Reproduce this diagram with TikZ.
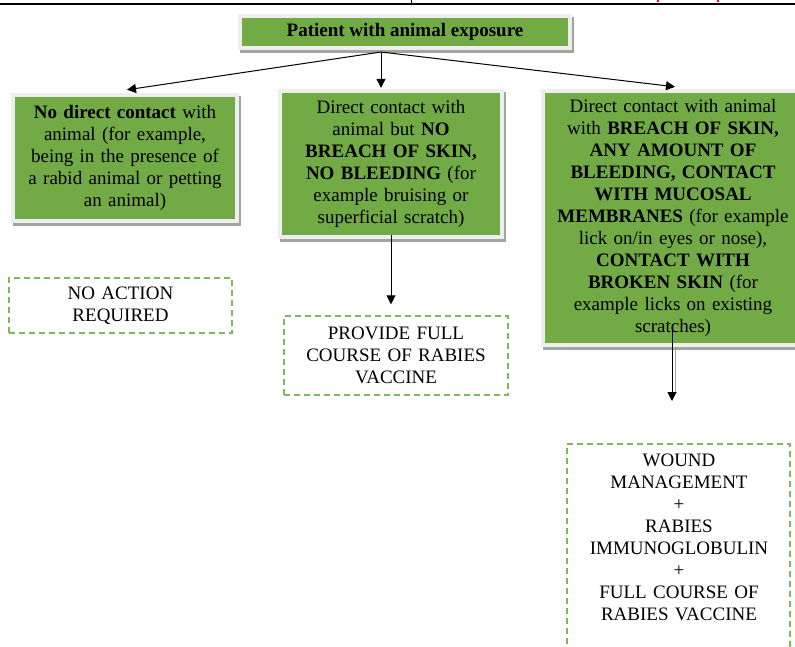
\documentclass[tikz,border=0pt]{standalone}
\usepackage{fontspec}
\setmainfont{Liberation Serif}
\usetikzlibrary{arrows.meta,calc}
\definecolor{boxgreen}{RGB}{114,170,70}
\definecolor{framegray}{RGB}{238,238,238}
\definecolor{shadowgray}{RGB}{160,166,156}
\definecolor{dashgreen}{RGB}{125,185,90}
\begin{document}
\begin{tikzpicture}[x=1pt,y=1pt,
  every node/.style={font=\fontsize{19}{22}\selectfont, text=black},
  greenbox/.style={fill=boxgreen, inner sep=0pt, align=center,
    preaction={draw=shadowgray, line width=8pt,
               transform canvas={shift={(2pt,-3pt)}}},
    preaction={draw=framegray, line width=8pt}},
  dashbox/.style={draw=dashgreen, line width=1.5pt, dash pattern=on 6pt off 4pt},
  outcome/.style={dashbox, align=center, inner sep=0pt},
  link/.style={-{Triangle[length=9pt,width=9pt]}, line width=1pt}]

\useasboundingbox (0,0) rectangle (795,-646);
\clip (0,0) rectangle (795,-646);

% page rule above the chart
\draw[line width=1.7pt] (0,-4.2) -- (795,-4.2);
\draw[line width=1pt] (411,0) -- (411,-4.2);
\draw[red, line width=1.5pt] (658,0) -- (658,-2) (718,0) -- (718,-2);

% question and the three kinds of exposure
\node[greenbox, minimum width=326pt, minimum height=28pt] (top) at (405,-32)
  {\textbf{Patient with animal exposure}};

\node[greenbox, minimum width=220pt, minimum height=122pt, text width=210pt]
  (nocontact) at (125,-158)
  {\textbf{No direct contact} with\\animal (for example,\\being in the presence of\\a rabid animal or petting\\an animal)};

\node[greenbox, minimum width=218pt, minimum height=142pt, text width=208pt]
  (contact) at (391,-164)
  {Direct contact with\\animal but \textbf{NO}\\\textbf{BREACH OF SKIN,}\\\textbf{NO BLEEDING} (for\\example bruising or\\superficial scratch)};

\node[greenbox, minimum width=256pt, minimum height=250pt, text width=246pt]
  (breach) at (673,-218)
  {Direct contact with animal\\with \textbf{BREACH OF SKIN,}\\\textbf{ANY AMOUNT OF}\\\textbf{BLEEDING, CONTACT}\\\textbf{WITH MUCOSAL}\\\textbf{MEMBRANES} (for example\\lick on/in eyes or nose),\\\textbf{CONTACT WITH}\\\textbf{BROKEN SKIN} (for\\example licks on existing\\scratches)};

% what to do in each case
\node[outcome, minimum width=223pt, minimum height=55pt, text width=215pt]
  (noaction) at (120.5,-305.5) {NO ACTION\\REQUIRED};

\node[outcome, minimum width=224pt, minimum height=79pt, text width=215pt]
  (vaccine) at (396,-355.5) {PROVIDE FULL\\COURSE OF RABIES\\VACCINE};

\node[dashbox, minimum width=223pt, minimum height=230pt, anchor=north]
  (woundbox) at (678.5,-443) {};
\node[align=center, text width=215pt, inner sep=0pt] (wound) at (679,-537.5)
  {WOUND\\MANAGEMENT\\+\\RABIES\\IMMUNOGLOBULIN\\+\\FULL COURSE OF\\RABIES VACCINE};

% connectors
\coordinate (hub) at (381,-52);
\draw[link] (hub) -- ($(nocontact.north)+(2pt,7pt)$);
\draw[link] (hub) -- ($(contact.north -| hub)+(0,5pt)$);
\draw[link] (hub) -- ($(breach.north)+(2pt,6pt)$);

\draw[link] (contact.south) -- ($(vaccine.north -| contact.south)+(0,11pt)$);

\coordinate (drop) at (672,-401);
\draw[shadowgray, line width=1.5pt] (675.5,-348) -- (675.5,-392);
\draw[link] ($(breach.south)+(-1pt,13pt)$) -- (drop);
\end{tikzpicture}
\end{document}
